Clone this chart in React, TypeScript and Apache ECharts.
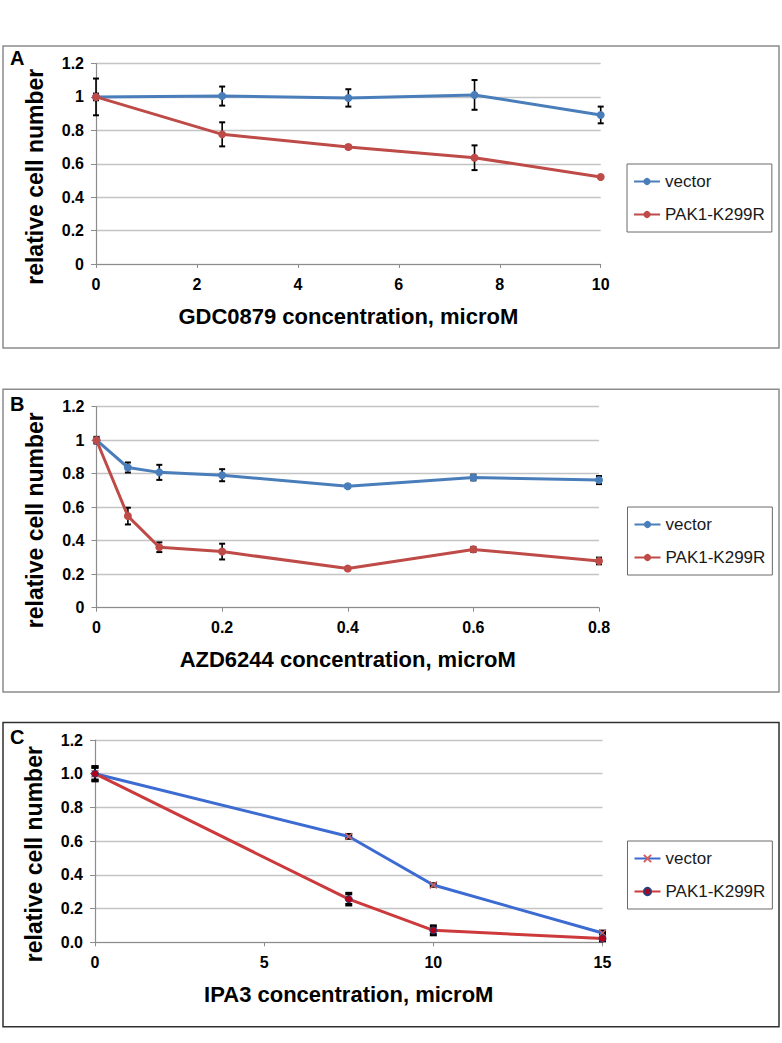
import React, { useEffect, useRef } from "react";
import * as echarts from "echarts";

// ---- Data ----
const xA = [0, 2.5, 5, 7.5, 10];
const vecA = [1.0, 1.005, 0.994, 1.012, 0.892];
const vecAErr = [0.11, 0.057, 0.052, 0.089, 0.05];
const pakA = [1.0, 0.776, 0.7, 0.636, 0.521];
const pakAErr = [0.02, 0.072, 0.01, 0.074, 0.006];

const xB = [0, 0.05, 0.1, 0.2, 0.4, 0.6, 0.8];
const vecB = [1.0, 0.837, 0.808, 0.791, 0.725, 0.777, 0.762];
const vecBErr = [0.02, 0.03, 0.045, 0.036, 0.01, 0.017, 0.024];
const pakB = [1.0, 0.547, 0.361, 0.335, 0.234, 0.348, 0.279];
const pakBErr = [0.015, 0.05, 0.029, 0.047, 0.006, 0.015, 0.02];

const xC = [0, 7.5, 10, 15];
const vecC = [1.0, 0.628, 0.34, 0.055];
const vecCErr = [0.04, 0.01, 0.006, 0.01];
const pakC = [1.0, 0.256, 0.071, 0.022];
const pakCErr = [0.04, 0.033, 0.025, 0.012];

const panelLetters = ["A", "B", "C"];
const xTitles = [
  "GDC0879 concentration, microM",
  "AZD6244 concentration, microM",
  "IPA3 concentration, microM",
];
const yTitle = "relative cell number";
const seriesNames = ["vector", "PAK1-K299R"];

const FONT = '"Liberation Sans", Arial, Helvetica, sans-serif';

const pairs = (xs: number[], ys: number[]) => xs.map((x, i) => [x, ys[i]]);
const errs = (xs: number[], ys: number[], es: number[]) =>
  xs.map((x, i) => [x, ys[i] - es[i], ys[i] + es[i]]);

function errorSeries(idx: number, data: number[][], capHalf: number, lw: number) {
  return {
    type: "custom",
    xAxisIndex: idx,
    yAxisIndex: idx,
    z: 1,
    silent: true,
    encode: { x: 0, y: [1, 2] },
    data,
    renderItem: (params: any, api: any) => {
      const x = api.value(0);
      const lo = api.coord([x, api.value(1)]);
      const hi = api.coord([x, api.value(2)]);
      const style = { stroke: "#000", lineWidth: lw };
      return {
        type: "group",
        children: [
          { type: "line", shape: { x1: lo[0], y1: lo[1], x2: hi[0], y2: hi[1] }, style: { stroke: "#000", lineWidth: 1.6 } },
          { type: "line", shape: { x1: lo[0] - capHalf, y1: lo[1], x2: lo[0] + capHalf, y2: lo[1] }, style },
          { type: "line", shape: { x1: hi[0] - capHalf, y1: hi[1], x2: hi[0] + capHalf, y2: hi[1] }, style },
        ],
      };
    },
  };
}

export default function App() {
  const ref = useRef<HTMLDivElement>(null);
  useEffect(() => {
    if (!ref.current) return;
    const chart = echarts.init(ref.current, null, { renderer: "svg" });

    const grids = [
      { left: 96, top: 63.5, width: 504.7, height: 200.5 },
      { left: 96.5, top: 406.7, width: 502.5, height: 201 },
      { left: 95, top: 740, width: 507.5, height: 202.3 },
    ];
    const xMax = [10, 0.8, 15];
    const xInt = [2, 0.2, 5];

    const xAxis = grids.map((_, i) => ({
      type: "value",
      gridIndex: i,
      min: 0,
      max: xMax[i],
      interval: xInt[i],
      name: xTitles[i],
      nameLocation: "middle",
      nameGap: 41,
      nameTextStyle: { fontFamily: FONT, fontWeight: "bold", fontSize: 22, color: "#000" },
      axisLine: { lineStyle: { color: "#8c8c8c", width: 1.2 } },
      axisTick: { show: true, length: 4, lineStyle: { color: "#8c8c8c" } },
      splitLine: { show: false },
      axisLabel: {
        fontFamily: FONT,
        fontWeight: "bold",
        fontSize: 16,
        color: "#000",
        margin: 12,
      },
    }));

    const yAxis = grids.map((_, i) => ({
      type: "value",
      gridIndex: i,
      min: 0,
      max: 1.2,
      interval: 0.2,
      name: yTitle,
      nameLocation: "middle",
      nameRotate: 90,
      nameGap: 50,
      nameTextStyle: {
        fontFamily: FONT,
        fontWeight: "bold",
        fontSize: 23,
        color: "#000",
        padding: [0, 26, 0, 0],
      },
      axisLine: { show: true, lineStyle: { color: "#8c8c8c", width: 1.2 } },
      axisTick: { show: true, length: 5, lineStyle: { color: "#8c8c8c" } },
      splitLine: { show: true, lineStyle: { color: "#c4c4c4", width: 1.3 } },
      axisLabel: {
        fontFamily: FONT,
        fontWeight: "bold",
        fontSize: 16,
        color: "#000",
        margin: 12,
        formatter: i === 2 ? (v: number) => v.toFixed(1) : undefined,
      },
    }));

    const blueAB = "#4a7ebb";
    const redAB = "#be4b48";
    const blueC = "#3c6bd2";
    const redC = "#cc3a3c";

    const lineSeries = (name: string, idx: number, data: number[][], color: string, extra: any = {}) => ({
      type: "line",
      name,
      xAxisIndex: idx,
      yAxisIndex: idx,
      data,
      z: 3,
      symbol: "circle",
      symbolSize: 8,
      lineStyle: { color, width: 3 },
      itemStyle: { color },
      ...extra,
    });

    const series: any[] = [
      errorSeries(0, errs(xA, vecA, vecAErr), 3, 2),
      errorSeries(0, errs(xA, pakA, pakAErr), 3, 2),
      lineSeries(seriesNames[0], 0, pairs(xA, vecA), blueAB),
      lineSeries(seriesNames[1], 0, pairs(xA, pakA), redAB),
      errorSeries(1, errs(xB, vecB, vecBErr), 3, 2),
      errorSeries(1, errs(xB, pakB, pakBErr), 3, 2),
      lineSeries(seriesNames[0], 1, pairs(xB, vecB), blueAB),
      lineSeries(seriesNames[1], 1, pairs(xB, pakB), redAB),
      errorSeries(2, errs(xC, vecC, vecCErr), 3.5, 3.5),
      errorSeries(2, errs(xC, pakC, pakCErr), 3.5, 3.5),
      lineSeries(seriesNames[0] + "|C", 2, pairs(xC, vecC), blueC, {
        symbol: "path://M0,0L10,10M10,0L0,10",
        symbolSize: 7,
        itemStyle: { color: "none", borderColor: "#d06060", borderWidth: 1.5 },
      }),
      lineSeries(seriesNames[1] + "|C", 2, pairs(xC, pakC), redC, {
        symbolSize: 7,
        itemStyle: { color: "#b3001b", borderColor: "#2a3f7a", borderWidth: 1 },
      }),
    ];

    const legendBase = {
      orient: "vertical",
      itemWidth: 26,
      itemHeight: 9,
      itemGap: 16,
      padding: [9, 7, 9, 6],
      borderColor: "#6a6a6a",
      borderWidth: 1,
      selectedMode: false,
      formatter: (n: string) => n.split("|")[0],
      textStyle: { fontFamily: FONT, fontSize: 17, color: "#1a1a1a" },
    };
    const legend = [
      { ...legendBase, left: 627, top: 164, data: seriesNames },
      { ...legendBase, left: 627.5, top: 507, data: seriesNames },
      { ...legendBase, left: 627.5, top: 841, data: seriesNames.map((s) => s + "|C") },
    ];

    const boxes = [
      { y: 46, h: 302, stroke: "#8c8c8c" },
      { y: 389.3, h: 302.7, stroke: "#8c8c8c" },
      { y: 722.5, h: 304.2, stroke: "#303030" },
    ];
    const letterY = [58, 404, 737];

    const graphic: any[] = [];
    boxes.forEach((b) => {
      graphic.push({
        type: "rect",
        z: -1,
        shape: { x: 3, y: b.y, width: 776, height: b.h },
        style: { fill: "none", stroke: b.stroke, lineWidth: 1.5 },
      });
    });
    panelLetters.forEach((L, i) => {
      graphic.push({
        type: "text",
        x: 10,
        y: letterY[i],
        style: {
          text: L,
          fontFamily: FONT,
          fontWeight: "bold",
          fontSize: 20,
          fill: "#000",
          align: "left",
          verticalAlign: "middle",
        },
      });
    });

    chart.setOption({
      animation: false,
      backgroundColor: "#ffffff",
      grid: grids,
      xAxis,
      yAxis,
      legend,
      series,
      graphic,
    });
    return () => chart.dispose();
  }, []);

  return (
    <div
      ref={ref}
      style={{ position: "absolute", left: 0, top: 0, width: 782, height: 1043, background: "#fff" }}
    />
  );
}
